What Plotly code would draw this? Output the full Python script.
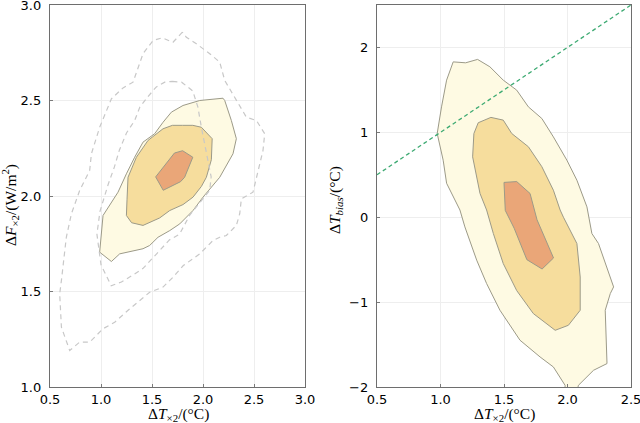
import plotly.graph_objects as go

# ---------------- Left panel data (ΔT×2 vs ΔF×2) ----------------
left_outer_x = [2.196, 2.08, 1.968, 1.804, 1.69, 1.608, 1.526, 1.412, 1.33, 1.249, 1.167, 1.02, 0.987, 1.102, 1.183,
                1.412, 1.477, 1.559, 1.674, 1.772, 1.902, 2.0, 2.164, 2.294, 2.327, 2.278, 2.213, 2.196]
left_outer_y = [2.512, 2.505, 2.50, 2.474, 2.439, 2.386, 2.326, 2.282, 2.203, 2.116, 2.02, 1.898, 1.706, 1.657, 1.697,
                1.724, 1.741, 1.784, 1.819, 1.854, 1.924, 1.994, 2.098, 2.221, 2.30, 2.395, 2.50, 2.512]

left_mid_x = [1.608, 1.70, 1.80, 1.90, 1.984, 2.09, 2.082, 2.033, 1.984, 1.902, 1.804, 1.674, 1.575, 1.412, 1.30,
              1.249, 1.255, 1.265, 1.347, 1.461, 1.608]
left_mid_y = [2.352, 2.37, 2.37, 2.37, 2.36, 2.30, 2.19, 2.098, 2.05, 1.994, 1.955, 1.924, 1.885, 1.846, 1.86,
              1.898, 1.98, 2.098, 2.203, 2.291, 2.352]

left_in_x = [1.72, 1.80, 1.90, 1.82, 1.78, 1.61, 1.536, 1.64, 1.72]
left_in_y = [2.225, 2.237, 2.203, 2.098, 2.075, 2.03, 2.10, 2.17, 2.225]

dash1_x = [1.798, 1.706, 1.599, 1.51, 1.412, 1.314, 1.216, 1.102, 0.987, 0.906, 0.889, 0.791, 0.71, 0.66, 0.612,
           0.595, 0.612, 0.693, 0.791, 0.889, 1.02, 1.134, 1.281, 1.379, 1.477, 1.608, 1.706, 1.807, 1.968,
           2.098, 2.164, 2.229, 2.327, 2.36, 2.376, 2.49, 2.588, 2.605, 2.524, 2.425, 2.294, 2.213, 2.164,
           2.066, 1.935, 1.837, 1.798]
dash1_y = [2.858, 2.805, 2.828, 2.814, 2.745, 2.596, 2.566, 2.509, 2.36, 2.221, 2.134, 2.029, 1.907, 1.784, 1.558,
           1.488, 1.313, 1.191, 1.235, 1.235, 1.305, 1.339, 1.409, 1.453, 1.496, 1.523, 1.575, 1.636, 1.697,
           1.767, 1.784, 1.793, 1.846, 1.907, 1.985, 2.02, 2.238, 2.326, 2.395, 2.413, 2.535, 2.605, 2.701,
           2.745, 2.797, 2.831, 2.858]

dash2_x = [1.70, 1.79, 1.90, 1.95, 1.984, 2.033, 2.08, 2.066, 1.95, 1.87, 1.77, 1.67, 1.55, 1.41, 1.31, 1.20,
           1.10, 1.00, 0.96, 0.99, 1.07, 1.13, 1.18, 1.25, 1.33, 1.38, 1.46, 1.54, 1.625, 1.70]
dash2_y = [2.60, 2.596, 2.55, 2.465, 2.36, 2.22, 2.10, 2.03, 1.95, 1.90, 1.80, 1.77, 1.70, 1.62, 1.585, 1.55,
           1.53, 1.64, 1.80, 1.92, 2.06, 2.15, 2.24, 2.33, 2.395, 2.465, 2.52, 2.57, 2.596, 2.60]

# ---------------- Right panel data (ΔT×2 vs ΔTbias) ----------------
right_outer_x = [1.10, 1.198, 1.292, 1.389, 1.494, 1.60, 1.692, 1.798, 1.889, 1.995, 2.074, 2.153, 2.192, 2.244,
                 2.363, 2.337, 2.297, 2.311, 2.205, 2.086, 2.07, 1.98, 1.981, 1.889, 1.784, 1.626, 1.468, 1.363,
                 1.285, 1.192, 1.153, 1.048, 1.021, 0.974, 1.008, 1.048, 1.10]
right_outer_y = [1.83, 1.819, 1.859, 1.772, 1.615, 1.497, 1.30, 1.163, 0.946, 0.672, 0.436, 0.122, -0.192, -0.31,
                 -0.821, -0.899, -1.096, -1.724, -1.803, -1.98, -2.08, -2.08, -1.98, -1.764, -1.646, -1.449, -1.096,
                 -0.781, -0.506, -0.114, 0.085, 0.40, 0.672, 0.986, 1.30, 1.615, 1.83]

right_mid_x = [1.297, 1.397, 1.494, 1.561, 1.692, 1.798, 1.889, 1.942, 1.968, 2.074, 2.10, 2.10, 2.007, 1.903,
               1.731, 1.60, 1.494, 1.416, 1.363, 1.311, 1.253, 1.263, 1.297]
right_mid_y = [1.113, 1.176, 1.144, 0.986, 0.83, 0.595, 0.318, 0.085, 0.0, -0.31, -0.704, -1.096, -1.273, -1.332,
               -1.135, -0.864, -0.546, -0.192, 0.085, 0.28, 0.711, 0.986, 1.113]

right_in_x = [1.50, 1.60, 1.705, 1.76, 1.89, 1.80, 1.68, 1.58, 1.51, 1.50]
right_in_y = [0.41, 0.42, 0.28, -0.03, -0.48, -0.61, -0.50, -0.13, 0.08, 0.41]

diag_x = [0.5, 2.5]
diag_y = [0.5, 2.5]

left_xticks = [0.5, 1.0, 1.5, 2.0, 2.5, 3.0]
left_xlabels = ["0.5", "1.0", "1.5", "2.0", "2.5", "3.0"]
left_yticks = [1.0, 1.5, 2.0, 2.5, 3.0]
left_ylabels = ["1.0", "1.5", "2.0", "2.5", "3.0"]
right_xticks = [0.5, 1.0, 1.5, 2.0, 2.5]
right_xlabels = ["0.5", "1.0", "1.5", "2.0", "2.5"]
right_yticks = [-2, -1, 0, 1, 2]

x_title = "Δ<i>T</i><sub>×2</sub>/(°C)"
left_y_title = "Δ<i>F</i><sub>×2</sub>/(W/m<sup>2</sup>)"
right_y_title = "Δ<i>T</i><sub><i>bias</i></sub>/(°C)"

# ---------------- Styles ----------------
C_OUT = "#FEFAE3"
C_MID = "#F6DD9D"
C_IN = "#EAA678"
EDGE = "#9C9A88"
DASH = "#C8C8C8"
GREEN = "#3DAA72"

fig = go.Figure()

def poly(x, y, fill, xa, ya):
    fig.add_trace(go.Scatter(x=x, y=y, mode="lines", fill="toself", fillcolor=fill,
                             line=dict(color=EDGE, width=1), xaxis=xa, yaxis=ya,
                             hoverinfo="skip", showlegend=False))

poly(left_outer_x, left_outer_y, C_OUT, "x", "y")
poly(left_mid_x, left_mid_y, C_MID, "x", "y")
poly(left_in_x, left_in_y, C_IN, "x", "y")
for dx, dy in [(dash1_x, dash1_y), (dash2_x, dash2_y)]:
    fig.add_trace(go.Scatter(x=dx, y=dy, mode="lines", line=dict(color=DASH, width=1.2, dash="5px,4px"),
                             xaxis="x", yaxis="y", hoverinfo="skip", showlegend=False))

poly(right_outer_x, right_outer_y, C_OUT, "x2", "y2")
poly(right_mid_x, right_mid_y, C_MID, "x2", "y2")
poly(right_in_x, right_in_y, C_IN, "x2", "y2")
fig.add_trace(go.Scatter(x=diag_x, y=diag_y, mode="lines", line=dict(color=GREEN, width=1.3, dash="4px,3px"),
                         xaxis="x2", yaxis="y2", hoverinfo="skip", showlegend=False))

tickfont = dict(family="DejaVu Sans", size=13, color="black")
titlefont = dict(family="Liberation Serif", size=15.5, color="black")
axis_common = dict(showline=True, linecolor="#6e6e6e", linewidth=1.3, mirror=True,
                   showgrid=True, gridcolor="#EEEEEE", gridwidth=0.7, zeroline=False,
                   ticks="inside", ticklen=3, tickcolor="#7a7a7a", tickfont=tickfont,
                   ticklabeloverflow="allow", automargin=False)

fig.update_layout(
    width=640, height=423,
    margin=dict(l=0, r=0, t=0, b=0),
    paper_bgcolor="white", plot_bgcolor="white",
    xaxis=dict(domain=[50 / 640, 305 / 640], range=[0.5, 3.0], tickvals=left_xticks,
               ticktext=left_xlabels, anchor="y", ticklabelstandoff=0, **axis_common),
    yaxis=dict(domain=[36 / 423, 418 / 423], range=[1.0, 3.0], tickvals=left_yticks,
               ticktext=left_ylabels, anchor="x", ticklabelstandoff=5, **axis_common),
    xaxis2=dict(domain=[377 / 640, 631 / 640], range=[0.5, 2.5], tickvals=right_xticks,
                ticktext=right_xlabels, anchor="y2", ticklabelstandoff=0, **axis_common),
    yaxis2=dict(domain=[36 / 423, 418 / 423], range=[-2, 2.5], tickvals=right_yticks, anchor="x2",
                ticklabelstandoff=5, **axis_common),
)

# axis titles placed as annotations (paper coordinates)
for xc in (178, 504):
    fig.add_annotation(text=x_title, x=xc / 640, y=-2 / 423, xref="paper", yref="paper", borderpad=0,
                       xanchor="center", yanchor="bottom", showarrow=False, font=titlefont)
fig.add_annotation(text=left_y_title, x=10 / 640, y=1 - 205 / 423, xref="paper", yref="paper",
                   xanchor="center", yanchor="middle", textangle=-90, showarrow=False, font=titlefont)
fig.add_annotation(text=right_y_title, x=335 / 640, y=1 - 200 / 423, xref="paper", yref="paper",
                   xanchor="center", yanchor="middle", textangle=-90, showarrow=False, font=titlefont)

fig.write_html("out.html", config={"displayModeBar": False},
               post_script="document.body.style.margin='0px';document.body.style.overflow='hidden';")
